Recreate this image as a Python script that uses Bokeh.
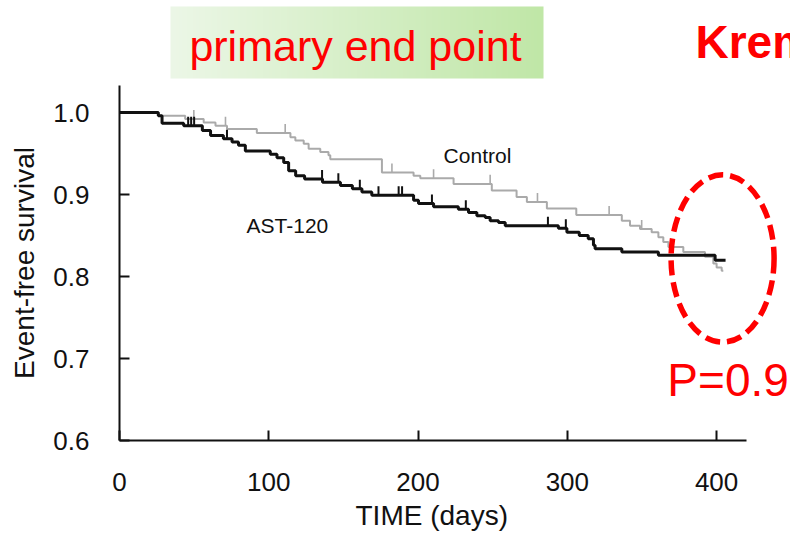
import numpy as np
from bokeh.plotting import figure
from bokeh.layouts import column
from bokeh.models import Range1d, Label, FixedTicker, Title
from bokeh.embed import file_html
from bokeh.resources import INLINE

# Kaplan-Meier curves: event times (days) and survival just after each event
ast_time = [0, 26, 28.5, 43, 55.5, 61, 69.6, 75.4, 79.7, 84.3, 101, 105.5, 110,
            113.3, 118, 124, 136, 148, 156, 162.4, 169, 197, 200.3, 210.4, 227,
            233.8, 239.4, 245, 248.3, 253.9, 258.4, 294, 299.7, 308, 314, 317.5,
            318.6, 336.5, 361, 399]
ast_surv = [1.0, 0.996, 0.987, 0.984, 0.978, 0.972, 0.968, 0.964, 0.960, 0.953,
            0.949, 0.945, 0.939, 0.929, 0.923, 0.919, 0.915, 0.911, 0.907, 0.903,
            0.899, 0.893, 0.889, 0.885, 0.882, 0.878, 0.874, 0.872, 0.868, 0.866,
            0.862, 0.859, 0.854, 0.850, 0.846, 0.838, 0.834, 0.830, 0.826, 0.820]
ast_last_day = 406
ast_censored = [46, 48, 50, 72, 135.7, 146.6, 161, 173.5, 187, 189.3, 209.3,
                232, 287, 299]

ctrl_time = [0, 26, 44, 56.4, 64.3, 72, 92, 114.5, 117.8, 123.4, 126.7, 134.5,
             140, 141.2, 175.8, 197, 201.5, 223.8, 249.4, 266, 272.9, 286.3, 306,
             336.5, 342, 348.7, 356.5, 361, 364.3, 367.7, 377.7, 392.2, 397.8,
             400, 403.4]
ctrl_surv = [1.0, 0.996, 0.992, 0.988, 0.984, 0.980, 0.975, 0.970, 0.966, 0.962,
             0.956, 0.952, 0.948, 0.943, 0.927, 0.923, 0.920, 0.913, 0.905, 0.897,
             0.891, 0.883, 0.875, 0.868, 0.862, 0.858, 0.854, 0.848, 0.842, 0.836,
             0.830, 0.824, 0.816, 0.811, 0.807]
ctrl_last_day = 404.5
ctrl_censored = [49.8, 71, 111, 182.5, 210.4, 248.3, 280, 328, 349.8]

x_ticks = [0, 100, 200, 300, 400]
x_tick_labels = ["0", "100", "200", "300", "400"]
y_ticks = [0.6, 0.7, 0.8, 0.9, 1.0]
y_tick_labels = ["0.6", "0.7", "0.8", "0.9", "1.0"]

FONT = "Liberation Sans"
RED = "#ff0000"
GRAY = "#aaaaaa"
BLACK = "#111111"
LEFT_BORDER = 119


def surv_at(times, surv, t):
    idx = np.searchsorted(np.asarray(times), np.asarray(t), side="right") - 1
    return np.asarray(surv)[idx]


# ---- header strip with the gradient title box (pixel-like coordinates) ----
header = figure(width=790, height=85, x_range=Range1d(LEFT_BORDER, 790),
                y_range=Range1d(0, 85), output_backend="svg", toolbar_location=None,
                x_axis_type=None, y_axis_type=None, min_border=0,
                min_border_left=LEFT_BORDER, outline_line_color=None,
                background_fill_color="white")

n = 256
frac = np.linspace(0.0, 1.0, n)[:, None]
c_left = np.array([236, 247, 231])
c_right = np.array([192, 231, 167])
rgb = (c_left * (1 - frac) + c_right * frac).astype(np.uint8)
img = np.empty((1, n), dtype=np.uint32)
view = img.view(dtype=np.uint8).reshape((1, n, 4))
view[0, :, :3] = rgb
view[0, :, 3] = 255
header.image_rgba(image=[img], x=170, y=7, dw=373, dh=72)

header.add_layout(Label(x=355, y=40, text="primary end point", text_font=FONT,
                        text_font_size="43px", text_color=RED, text_align="center",
                        text_baseline="middle"))
header.add_layout(Label(x=695, y=43.5, text="Krem", text_font=FONT,
                        text_font_size="46px", text_font_style="bold", text_color=RED,
                        text_align="left", text_baseline="middle"))

# ---- survival plot ----
p = figure(width=790, height=455, x_range=Range1d(0, 449.5), y_range=Range1d(0.6, 1.033),
           output_backend="svg", toolbar_location=None,
           min_border_left=LEFT_BORDER, min_border_right=0, min_border_top=0,
           min_border_bottom=100, outline_line_color=None,
           background_fill_color="white")
p.grid.visible = False

ctrl_x = list(ctrl_time) + [ctrl_last_day]
ctrl_y = list(ctrl_surv) + [ctrl_surv[-1]]
ast_x = list(ast_time) + [ast_last_day]
ast_y = list(ast_surv) + [ast_surv[-1]]

TICK_H = 0.011

p.step(ctrl_x, ctrl_y, mode="after", line_color=GRAY, line_width=2)
cs = surv_at(ctrl_time, ctrl_surv, ctrl_censored)
p.segment(x0=ctrl_censored, y0=cs, x1=ctrl_censored, y1=cs + TICK_H,
          line_color=GRAY, line_width=1.6)

p.step(ast_x, ast_y, mode="after", line_color=BLACK, line_width=3)
a_s = surv_at(ast_time, ast_surv, ast_censored)
p.segment(x0=ast_censored, y0=a_s, x1=ast_censored, y1=a_s + TICK_H,
          line_color=BLACK, line_width=2)

p.add_layout(Label(x=239.8, y=0.9476, text="Control", text_font=FONT,
                   text_font_size="21px", text_color=BLACK, text_align="center",
                   text_baseline="middle"))
p.add_layout(Label(x=112.5, y=0.862, text="AST-120", text_font=FONT,
                   text_font_size="21px", text_color=BLACK, text_align="center",
                   text_baseline="middle"))

# highlighted end of follow-up and the p-value
p.ellipse(x=[404], y=[0.822], width=69, height=0.204, fill_color=None,
          line_color=RED, line_width=5.5, line_dash="15 7")
p.add_layout(Label(x=367, y=0.674, text="P=0.9", text_font=FONT,
                   text_font_size="46px", text_color=RED, text_align="left",
                   text_baseline="middle"))

for ax in (p.xaxis[0], p.yaxis[0]):
    ax.axis_line_color = BLACK
    ax.axis_line_width = 2
    ax.major_tick_line_color = BLACK
    ax.major_tick_line_width = 2
    ax.major_tick_in = 10
    ax.major_tick_out = 0
    ax.minor_tick_line_color = None
    ax.major_label_text_font = FONT
    ax.major_label_text_font_size = "26px"
    ax.major_label_text_color = BLACK
    ax.axis_label_text_font = FONT
    ax.axis_label_text_font_size = "28px"
    ax.axis_label_text_font_style = "normal"
    ax.axis_label_text_color = BLACK

p.xaxis.bounds = (0, 420)
p.xaxis.ticker = FixedTicker(ticks=x_ticks)
p.xaxis.major_label_overrides = dict(zip(x_ticks, x_tick_labels))
p.xaxis.major_label_standoff = 32

# x-axis title placed under the drawn axis line (the frame runs wider than the axis)
p.add_layout(Title(text="TIME (days)", align="left", offset=236, standoff=9,
                   text_font=FONT, text_font_size="28px", text_font_style="normal",
                   text_color=BLACK), "below")

p.yaxis.ticker = FixedTicker(ticks=y_ticks)
p.yaxis.major_label_overrides = dict(zip(y_ticks, y_tick_labels))
p.yaxis.major_label_standoff = 30
p.yaxis.axis_label = "Event-free survival"
p.yaxis.axis_label_standoff = 10

layout = column(header, p, spacing=0)
open("out.html", "w").write(file_html(layout, INLINE))
